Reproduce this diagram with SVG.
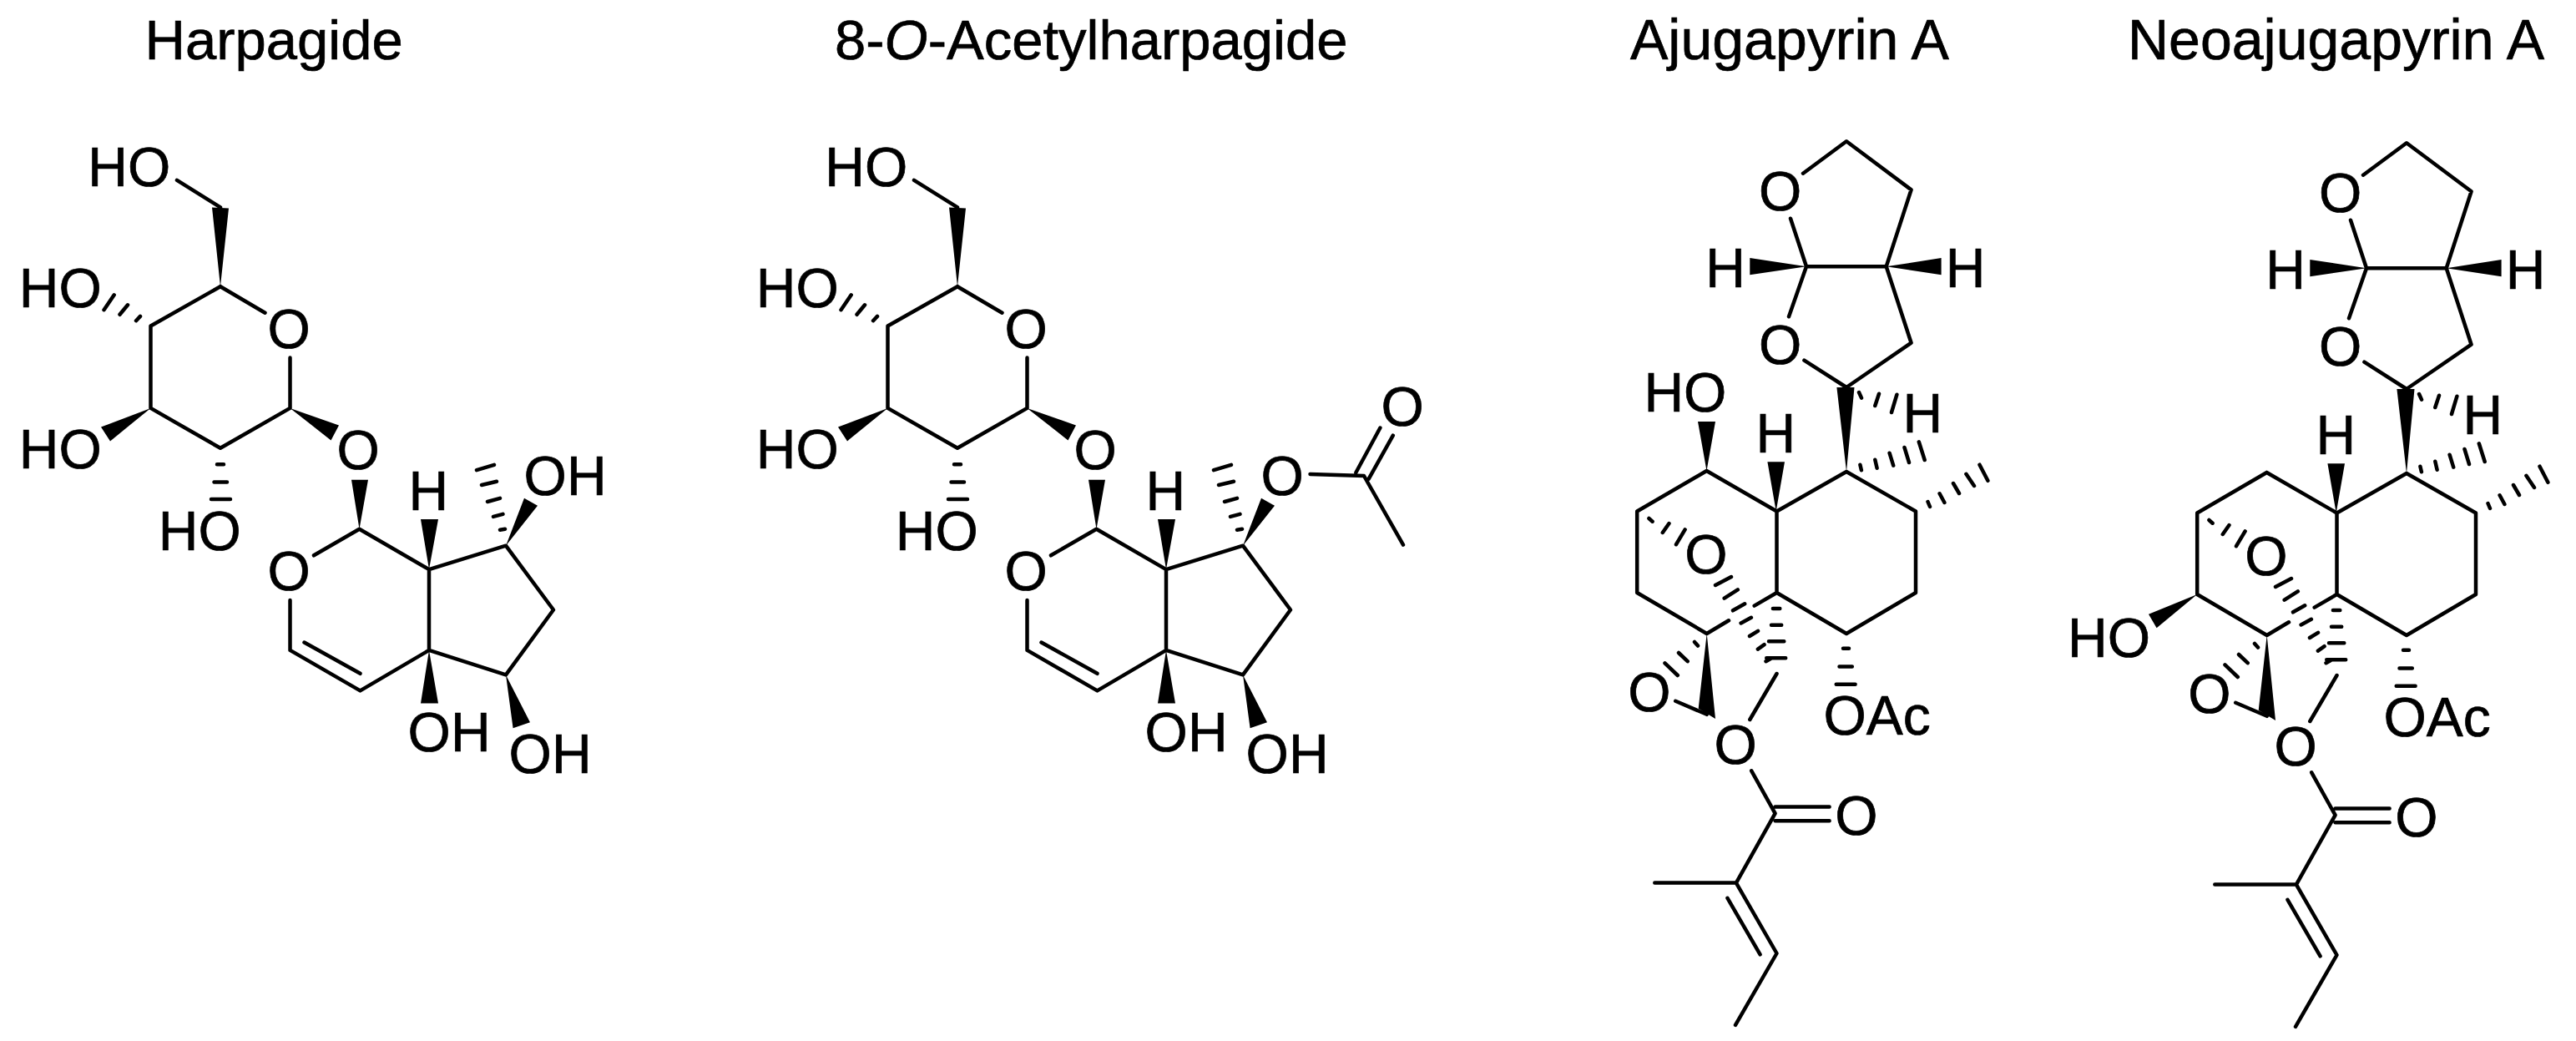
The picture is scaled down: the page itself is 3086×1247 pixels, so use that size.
<svg xmlns="http://www.w3.org/2000/svg" width="3086" height="1247" viewBox="0 0 3086 1247">
<style>
.b{fill:none;stroke:#000;stroke-width:4.500;stroke-linecap:round;stroke-linejoin:round}
.h{fill:none;stroke:#000;stroke-width:4.500;stroke-linecap:round}
.w{fill:#000;stroke:none}
text{font-family:"Liberation Sans",Arial,sans-serif;fill:#000;stroke:#000;stroke-width:.7}
.t{font-size:67px}
.u{font-size:68px}
.l{font-size:66px}
</style>
<rect width="3086" height="1247" fill="#fff"/>
<g id="titles">
<text class="t" x="173.500" y="71">Harpagide</text>
<text class="t" x="1000" y="71">8-<tspan font-style="italic">O</tspan>-Acetylharpagide</text>
<text class="u" x="1953" y="71">Ajugapyrin A</text>
<text class="u" x="2549" y="71">Neoajugapyrin A</text>
</g>
<g id="harpagide">
<path class="b" d="M212 215.800L264 248.400M264 343.200L317.500 374.700M264 343.200L180.500 390.500V488.900L264 536.800L347.500 488.900V428.400M376 665.300L430.500 633.700L514 682.100V778.900L431.500 827.400L347.500 778.900V718.900M364.500 769.500L431.500 806.800M514 682.100L606 653.700L663 730.500L606 808.400L514 778.900"/>
<path class="w" d="M264 343.200L254 248.400L274 249.500ZM180.500 488.900L121 511.600L132 528.400ZM347.500 488.900L406 509.500L396.500 527.400ZM430.500 633.700L421 574.700H441ZM514 682.100L504 622.100H525ZM606 653.700L628 596.800L644 605.800ZM514 778.900L504 842.600H525ZM606 808.400L614.600 872.200L635 865.300Z"/>
<path class="h" d="M163 384.200L168 378.900M143.500 376.800L153 365.300M124.500 371.200L136.700 353.300M260 556.300H268M256.500 577.400H272M253 597.900H276M571 563.100L592 556.800M577 581L595 576.800M584 601L599 596.800M591 618.900L602.500 615.800M599 634.700L605 633.700"/>
<text class="l" x="105.300" y="223.200">HO</text>
<text class="l" x="22.800" y="368.400">HO</text>
<text class="l" x="22.800" y="561">HO</text>
<text class="l" x="189.800" y="659">HO</text>
<text class="l" x="320.600" y="416.800">O</text>
<text class="l" x="403.600" y="562">O</text>
<text class="l" x="320.600" y="707.400">O</text>
<text class="l" x="489.600" y="610.500">H</text>
<text class="l" x="627.600" y="592.600">OH</text>
<text class="l" x="488.600" y="900">OH</text>
<text class="l" x="609.600" y="925.800">OH</text>
</g>
<g id="acetylharpagide" transform="translate(883 0)">
<path class="b" d="M212 215.800L264 248.400M264 343.200L317.500 374.700M264 343.200L180.500 390.500V488.900L264 536.800L347.500 488.900V428.400M376 665.300L430.500 633.700L514 682.100V778.900L431.500 827.400L347.500 778.900V718.900M364.500 769.500L431.500 806.800M514 682.100L606 653.700L663 730.500L606 808.400L514 778.900M686.500 567.900L751 570L798 652.600M741.400 566L770.400 512.500M756.700 573.700L785.800 521.700"/>
<path class="w" d="M264 343.200L254 248.400L274 249.500ZM180.500 488.900L121 511.600L132 528.400ZM347.500 488.900L406 509.500L396.500 527.400ZM430.500 633.700L421 574.700H441ZM514 682.100L504 622.100H525ZM606 653.700L628 596.800L644 605.800ZM514 778.900L504 842.600H525ZM606 808.400L614.600 872.200L635 865.300Z"/>
<path class="h" d="M163 384.200L168 378.900M143.500 376.800L153 365.300M124.500 371.200L136.700 353.300M260 556.300H268M256.500 577.400H272M253 597.900H276M571 563.100L592 556.800M577 581L595 576.800M584 601L599 596.800M591 618.900L602.500 615.800M599 634.700L605 633.700"/>
<text class="l" x="105.300" y="223.200">HO</text>
<text class="l" x="22.800" y="368.400">HO</text>
<text class="l" x="22.800" y="561">HO</text>
<text class="l" x="189.800" y="659">HO</text>
<text class="l" x="320.600" y="416.800">O</text>
<text class="l" x="403.600" y="562">O</text>
<text class="l" x="320.600" y="707.400">O</text>
<text class="l" x="489.600" y="610.500">H</text>
<text class="l" x="627.600" y="592.600">O</text>
<text class="l" x="771.600" y="509.500">O</text>
<text class="l" x="488.600" y="900">OH</text>
<text class="l" x="609.600" y="925.800">OH</text>
</g>
<g id="ajugapyrin">
<path class="b" d="M2160 207.700L2212 169.300L2289.600 227.300L2259.700 319.300L2164 319.300L2145 261.700M2164 319.300L2143 379.300M2259.700 319.300L2289.600 410.700L2212 464L2161.400 431.700M2044.500 564L1961.200 612.500V710L2044.700 759L2071 743.300M2101.700 725.600L2128.500 710V612.500L2044.500 564M2128.500 612.500L2212 565L2295 612.500V710L2212 759L2128.500 710M2007.200 839.800L2044.700 855.800M2128.500 807L2096.300 862M2098.200 923.300L2126.600 974.400L2079.900 1057.600H1982.300M2079.900 1057.600L2128.500 1142L2079 1227.800M2069.500 1075.800L2108.600 1143.300M2126.600 966.400H2191.600M2126.600 983.300H2191.600"/>
<path class="w" d="M2164 319.300L2096.300 309V329.300ZM2259.700 319.300L2325.600 309V329.300ZM2212 565L2200.400 464H2221.500ZM2044.500 564L2034 505H2055ZM2127.700 612.500L2117.400 553.300H2138ZM2044.700 759L2055 861L2034.700 848.700Z"/>
<path class="h" d="M2227 470L2230 476.700M2246.300 486L2251 471.700M2266 494L2272.400 472.700M2228.400 556.700L2229.900 563.300M2246.300 550.700L2248.600 560.700M2263.600 542.700L2268.200 557.700M2281.500 536L2287 554M2298.800 529.300L2305.700 551M2309.500 601L2312 607M2323.600 591.300L2329.400 602M2340 579L2347 591M2355.400 567.800L2365 582M2371.500 556.700L2381.400 575.800M1975.400 621L1979.600 624.700M1991.800 638L1999.500 627M2008 652.200L2018.600 634.400M2055 701L2074 691M2065.700 716.700L2081.800 706.400M2076 731.300L2090.200 723.300M2085.600 746.400L2097.900 739.800M2096 762L2106 755.800M2105.900 777.600L2113.600 772.200M2115.500 792.200L2121.200 789M2123.900 729H2132.300M2122 748.700H2134.200M2119 768.200H2137.300M2116.200 788.200H2139.200M2030 769L2034 773.600M2011 782L2021.700 792.200M1994.500 794.400L2009.800 809M2208 776.700H2215M2203.500 798.400H2218.800M2199.700 819.800H2222.600"/>
<text class="l" x="2107.100" y="251.700">O</text>
<text class="l" x="2107.100" y="436">O</text>
<text class="l" x="2043.300" y="344">H</text>
<text class="l" x="2330.800" y="344">H</text>
<text class="l" x="2279.400" y="518.300">H</text>
<text class="l" x="1969.400" y="493.300">HO</text>
<text class="l" x="2103.400" y="541.700">H</text>
<text class="l" x="2018.300" y="687">O</text>
<text class="l" x="1950.200" y="852">O</text>
<text class="l" x="2053.600" y="915.300">O</text>
<text class="l" x="2198.200" y="999.800">O</text>
<text class="l" x="2184.400" y="880.200">OAc</text>
</g>
<g id="neoajugapyrin" transform="translate(671 2)">
<path class="b" d="M2160 207.700L2212 169.300L2289.600 227.300L2259.700 319.300L2164 319.300L2145 261.700M2164 319.300L2143 379.300M2259.700 319.300L2289.600 410.700L2212 464L2161.400 431.700M2044.500 564L1961.200 612.500V710L2044.700 759L2071 743.300M2101.700 725.600L2128.500 710V612.500L2044.500 564M2128.500 612.500L2212 565L2295 612.500V710L2212 759L2128.500 710M2007.200 839.800L2044.700 855.800M2128.500 807L2096.300 862M2098.200 923.300L2126.600 974.400L2079.900 1057.600H1982.300M2079.900 1057.600L2128.500 1142L2079 1227.800M2069.500 1075.800L2108.600 1143.300M2126.600 966.400H2191.600M2126.600 983.300H2191.600"/>
<path class="w" d="M2164 319.300L2096.300 309V329.300ZM2259.700 319.300L2325.600 309V329.300ZM2212 565L2200.400 464H2221.500ZM1961.200 710L1903 733.800L1912.600 750.200ZM2127.700 612.500L2117.400 553.300H2138ZM2044.700 759L2055 861L2034.700 848.700Z"/>
<path class="h" d="M2227 470L2230 476.700M2246.300 486L2251 471.700M2266 494L2272.400 472.700M2228.400 556.700L2229.900 563.300M2246.300 550.700L2248.600 560.700M2263.600 542.700L2268.200 557.700M2281.500 536L2287 554M2298.800 529.300L2305.700 551M2309.500 601L2312 607M2323.600 591.300L2329.400 602M2340 579L2347 591M2355.400 567.800L2365 582M2371.500 556.700L2381.400 575.800M1975.400 621L1979.600 624.700M1991.800 638L1999.500 627M2008 652.200L2018.600 634.400M2055 701L2074 691M2065.700 716.700L2081.800 706.400M2076 731.300L2090.200 723.300M2085.600 746.400L2097.900 739.800M2096 762L2106 755.800M2105.900 777.600L2113.600 772.200M2115.500 792.200L2121.200 789M2123.900 729H2132.300M2122 748.700H2134.200M2119 768.200H2137.300M2116.200 788.200H2139.200M2030 769L2034 773.600M2011 782L2021.700 792.200M1994.500 794.400L2009.800 809M2208 776.700H2215M2203.500 798.400H2218.800M2199.700 819.800H2222.600"/>
<text class="l" x="2107.100" y="251.700">O</text>
<text class="l" x="2107.100" y="436">O</text>
<text class="l" x="2043.300" y="344">H</text>
<text class="l" x="2330.800" y="344">H</text>
<text class="l" x="2279.400" y="518.300">H</text>
<text class="l" x="1806" y="784.500">HO</text>
<text class="l" x="2103.400" y="541.700">H</text>
<text class="l" x="2018.300" y="687">O</text>
<text class="l" x="1950.200" y="852">O</text>
<text class="l" x="2053.600" y="915.300">O</text>
<text class="l" x="2198.200" y="999.800">O</text>
<text class="l" x="2184.400" y="880.200">OAc</text>
</g>
</svg>
